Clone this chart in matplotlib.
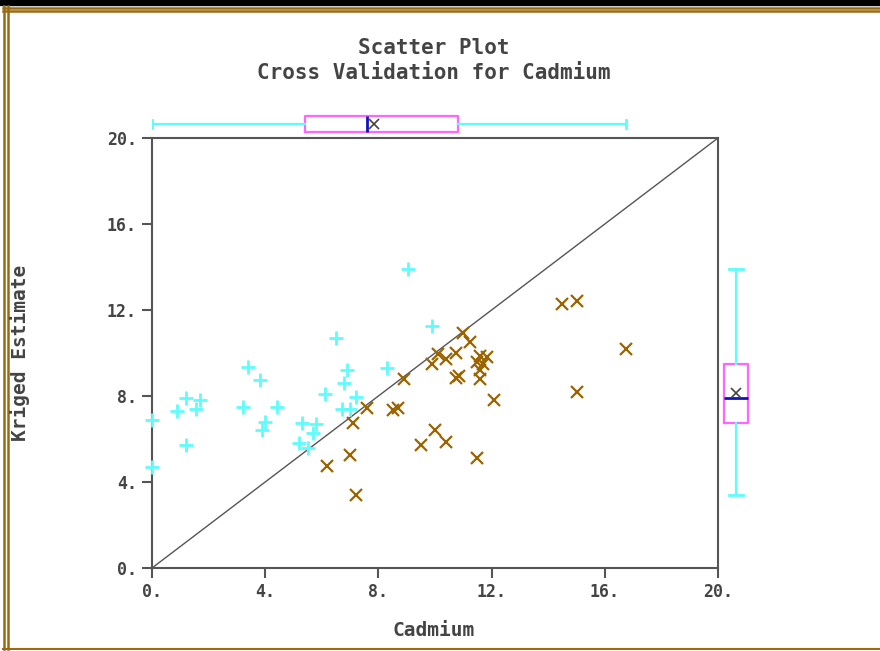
import numpy as np
import matplotlib.pyplot as plt
from matplotlib.patches import Rectangle
from matplotlib.lines import Line2D

# cross validation points: actual cadmium vs kriged estimate
# points where estimate > actual (drawn as cyan +)
over_x = [0.0, 0.0, 0.9, 1.2, 1.2, 1.55, 1.7, 3.2, 3.4, 3.8, 3.9, 4.0, 4.4, 5.2,
          5.3, 5.5, 5.7, 5.8, 6.1, 6.5, 6.7, 6.8, 6.9, 7.0, 7.2, 8.3, 9.05, 9.9]
over_y = [6.9, 4.7, 7.3, 7.9, 5.7, 7.4, 7.8, 7.5, 9.35, 8.75, 6.4, 6.8, 7.5, 5.8,
          6.75, 5.6, 6.3, 6.7, 8.1, 10.7, 7.4, 8.6, 9.2, 7.4, 7.95, 9.3, 13.9, 11.25]

# points where estimate < actual (drawn as brown x)
under_x = [6.2, 7.0, 7.1, 7.2, 7.6, 8.5, 8.7, 8.9, 9.5, 9.9, 10.0, 10.1, 10.4, 10.4,
           10.75, 10.75, 10.85, 11.0, 11.25, 11.5, 11.5, 11.6, 11.7, 11.85,
           11.6, 11.6, 12.1, 14.5, 15.0, 15.0, 16.75]
under_y = [4.75, 5.25, 6.75, 3.4, 7.45, 7.35, 7.45, 8.8, 5.7, 9.5, 6.4, 9.95, 9.7, 5.85,
           10.0, 8.85, 8.95, 10.95, 10.5, 5.1, 9.6, 9.85, 9.5, 9.8,
           9.2, 8.8, 7.8, 12.3, 12.4, 8.2, 10.2]

ticks = [0, 4, 8, 12, 16, 20]
tick_labels = ["0.", "4.", "8.", "12.", "16.", "20."]

cyan = "#5ffcfc"
brown = "#9a6400"
magenta = "#ff66ff"
gold = "#9a6a10"
gray = "#555555"
txt = "#444444"
mono = "DejaVu Sans Mono"

W, H = 880, 651
fig = plt.figure(figsize=(W / 100, H / 100), dpi=100)


def fx(px):
    return px / W


def fy(py):
    return 1 - py / H


# frame decoration
fig.patches.append(Rectangle((0, fy(5)), 1, 5 / H, transform=fig.transFigure,
                             color="black", zorder=0))
for y in [7.5, 11]:
    fig.lines.append(Line2D([fx(3), 1], [fy(y), fy(y)], transform=fig.transFigure,
                            color=gold, lw=1.8))
for x in [3.5, 7.5]:
    fig.lines.append(Line2D([fx(x), fx(x)], [fy(6), fy(649)], transform=fig.transFigure,
                            color=gold, lw=1.8))
fig.lines.append(Line2D([fx(3), 1], [fy(649), fy(649)], transform=fig.transFigure,
                        color=gold, lw=1.5))

# main scatter axes
left, right, top, bottom = 152, 718, 138, 568
ax = fig.add_axes([fx(left), fy(bottom), fx(right - left), (bottom - top) / H])
ax.plot([0, 20], [0, 20], color=gray, lw=1, zorder=1)
ax.plot(over_x, over_y, "+", color=cyan, ms=10, mew=2, zorder=3, clip_on=False)
ax.plot(under_x, under_y, "x", color=brown, ms=8, mew=1.6, zorder=3, clip_on=False)
ax.set_xlim(0, 20)
ax.set_ylim(0, 20)
ax.set_xticks(ticks)
ax.set_xticklabels(tick_labels)
ax.set_yticks(ticks)
ax.set_yticklabels(tick_labels)
for s in ax.spines.values():
    s.set_color(gray)
    s.set_linewidth(1.5)
ax.tick_params(direction="out", length=7, width=1.5, color=gray, labelcolor=txt,
               labelsize=12, pad=4)
for lab in ax.get_xticklabels() + ax.get_yticklabels():
    lab.set_family(mono)
    lab.set_fontweight("bold")

all_x = over_x + under_x
all_y = over_y + under_y

box_kw = dict(whis=(0, 100), widths=1.0, showmeans=True, capwidths=0.55,
              boxprops=dict(color=magenta, lw=1.6),
              whiskerprops=dict(color=cyan, lw=1.6),
              capprops=dict(color=cyan, lw=2),
              medianprops=dict(color="#1010c0", lw=2),
              meanprops=dict(marker="x", markeredgecolor=txt, markersize=7, mew=1.2))

# top boxplot of actual values
ax_top = fig.add_axes([fx(left), fy(140), fx(right - left), 32 / H], sharex=ax)
ax_top.boxplot(all_x, vert=False, positions=[0], **box_kw)
ax_top.set_ylim(-1, 1)
ax_top.axis("off")
ax_top.set_xlim(0, 20)

# right boxplot of estimated values
ax_right = fig.add_axes([fx(712), fy(bottom), 48 / W, (bottom - top) / H], sharey=ax)
ax_right.boxplot(all_y, vert=True, positions=[0], **box_kw)
ax_right.set_xlim(-1, 1)
ax_right.axis("off")
ax_right.set_ylim(0, 20)

# text
fig.text(fx(434), fy(48), "Scatter Plot", family=mono, fontweight="bold", fontsize=15,
         color=txt, ha="center", va="center")
fig.text(fx(434), fy(73), "Cross Validation for Cadmium", family=mono, fontweight="bold",
         fontsize=15, color=txt, ha="center", va="center")
fig.text(fx(434), fy(630), "Cadmium", family=mono, fontweight="bold", fontsize=14,
         color=txt, ha="center", va="center")
fig.text(fx(20), fy(353), "Kriged Estimate", family=mono, fontweight="bold", fontsize=14,
         color=txt, ha="center", va="center", rotation=90)

fig.savefig("out.png", dpi=100)
